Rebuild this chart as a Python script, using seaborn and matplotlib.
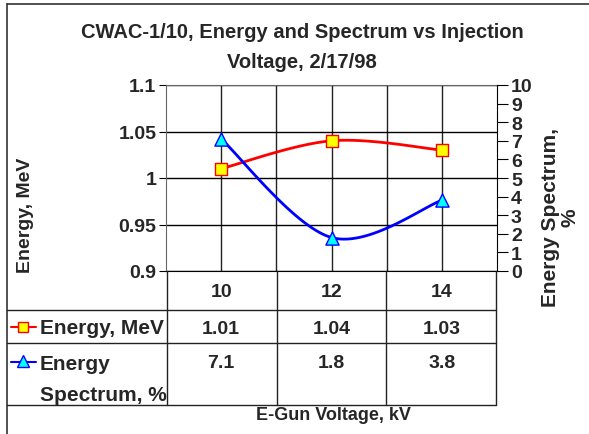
import numpy as np
import pandas as pd
import matplotlib
matplotlib.use("Agg")
import matplotlib.pyplot as plt
import matplotlib.transforms as mtransforms
from matplotlib.lines import Line2D
import seaborn as sns

# Datos
voltages = ["10", "12", "14"]
energy = [1.01, 1.04, 1.03]
spectrum = [7.1, 1.8, 3.8]
energy_ticks = [0.9, 0.95, 1.0, 1.05, 1.1]
energy_tick_labels = ["0.9", "0.95", "1", "1.05", "1.1"]
spectrum_ticks = list(range(0, 11))

sns.set_style("white")
plt.rcParams["font.family"] = ["Liberation Sans", "DejaVu Sans"]
plt.rcParams["font.weight"] = "bold"

W, H = 589, 435
fig = plt.figure(figsize=(W / 100, H / 100), dpi=100)


def fx(x):
    return x / W


def fy(y):
    return 1 - y / H


def smooth(xs, ys, n=40):
    # curva suavizada tipo Excel (Bezier / Catmull-Rom)
    p = np.column_stack([xs, ys]).astype(float)
    pts = []
    for i in range(len(p) - 1):
        p0 = p[i - 1] if i > 0 else p[i]
        p3 = p[i + 2] if i + 2 < len(p) else p[i + 1]
        c1 = p[i] + (p[i + 1] - p0) / 6
        c2 = p[i + 1] - (p3 - p[i]) / 6
        t = np.linspace(0, 1, n)[:, None]
        seg = ((1 - t) ** 3) * p[i] + 3 * ((1 - t) ** 2) * t * c1 + 3 * (1 - t) * t ** 2 * c2 + t ** 3 * p[i + 1]
        pts.append(seg if i == 0 else seg[1:])
    pts = np.vstack(pts)
    return pts[:, 0], pts[:, 1]


# marco exterior
fig.add_artist(Line2D([fx(7), fx(7)], [fy(5), 0], color="#333333", lw=1.2))
fig.add_artist(Line2D([fx(7), 1], [fy(5), fy(5)], color="#333333", lw=1.2))

# titulo
fig.text(fx(302), fy(33), "CWAC-1/10, Energy and Spectrum vs Injection",
         ha="center", va="center", fontsize=14.5, fontweight="bold")
fig.text(fx(302), fy(62), "Voltage, 2/17/98",
         ha="center", va="center", fontsize=14.5, fontweight="bold")

ax = fig.add_axes([fx(166), fy(272), (497 - 166) / W, (272 - 86) / H])
pos = np.arange(len(voltages))

df = pd.DataFrame({"pos": pos, "energy": energy, "spectrum": spectrum})

ex, ey = smooth(pos, energy)
sns.lineplot(x=ex, y=ey, ax=ax, color="#ff0000", lw=2, sort=False, zorder=3)
sns.scatterplot(data=df, x="pos", y="energy", ax=ax, marker="s", s=70,
                color="#ffff00", edgecolor="#ff0000", linewidth=1, zorder=4)

ax.set_xlim(-0.5, len(voltages) - 0.5)
ax.set_ylim(0.9, 1.1)
ax.set_yticks(energy_ticks)
ax.set_yticklabels(energy_tick_labels, fontsize=14, fontweight="bold")
ax.set_xticks(pos)
ax.set_xticklabels([])
ax.set_xticks(pos[:-1] + 0.5, minor=True)
ax.tick_params(axis="y", direction="out", length=5, color="black", pad=2)
ax.tick_params(axis="x", which="major", direction="out", length=4, color="black")
ax.tick_params(axis="x", which="minor", length=0)
ax.grid(True, axis="y", color="black", lw=1)
ax.grid(True, axis="x", which="both", color="#222222", lw=1)
ax.set_xlabel("")
ax.set_ylabel("")
for s in ["top", "left"]:
    ax.spines[s].set_color("#666666")
ax.spines["bottom"].set_color("black")
ax.spines["right"].set_visible(False)

ax2 = ax.twinx()
sx, sy = smooth(pos, spectrum)
sns.lineplot(x=sx, y=sy, ax=ax2, color="#0000ff", lw=2, sort=False, zorder=3)
sns.scatterplot(data=df, x="pos", y="spectrum", ax=ax2, marker="^", s=90,
                color="#00ffff", edgecolor="#0000ff", linewidth=1, zorder=4)
ax2.set_ylim(0, 10)
ax2.set_yticks(spectrum_ticks)
ax2.set_yticklabels([str(t) for t in spectrum_ticks], fontsize=14, fontweight="bold")
ax2.tick_params(axis="y", direction="out", length=8, color="black", pad=2)
ax2.set_ylabel("")
for s in ["top", "left", "bottom"]:
    ax2.spines[s].set_visible(False)
ax2.spines["right"].set_color("black")

# etiquetas de ejes
fig.text(fx(25), fy(215), "Energy, MeV", rotation=90, ha="center", va="center",
         fontsize=14, fontweight="bold")
fig.text(fx(560), fy(218), "Energy Spectrum,\n%", rotation=90, ha="center", va="center",
         fontsize=15, fontweight="bold", linespacing=1.0, multialignment="center")

# tabla de datos
rows = [272, 310.7, 344.3, 405.7]
cols = [166.7, 277, 386, 496]
for y in rows[1:]:
    fig.add_artist(Line2D([fx(7), fx(496)], [fy(y), fy(y)], color="#222222", lw=1))
for x in cols:
    fig.add_artist(Line2D([fx(x), fx(x)], [fy(272), fy(405.7)], color="#222222", lw=1))

tr = mtransforms.blended_transform_factory(ax.transData, fig.transFigure)
for i, v in enumerate(voltages):
    ax.text(pos[i], fy(293), v, transform=tr, ha="center", va="center",
            fontsize=14, fontweight="bold")
    ax.text(pos[i], fy(329), f"{energy[i]:.2f}", transform=tr, ha="center", va="center",
            fontsize=14, fontweight="bold")
    ax.text(pos[i], fy(364), f"{spectrum[i]:.1f}", transform=tr, ha="center", va="center",
            fontsize=14, fontweight="bold")

fig.add_artist(Line2D([fx(11), fx(36)], [fy(328), fy(328)], color="#ff0000", lw=1.5))
fig.add_artist(Line2D([fx(23)], [fy(328)], marker="s", markersize=7,
                      markerfacecolor="#ffff00", markeredgecolor="#ff0000", lw=0))
fig.text(fx(40), fy(329), "Energy, MeV", ha="left", va="center", fontsize=15, fontweight="bold")
fig.add_artist(Line2D([fx(11), fx(36)], [fy(363), fy(363)], color="#0000ff", lw=1.5))
fig.add_artist(Line2D([fx(23)], [fy(362)], marker="^", markersize=8,
                      markerfacecolor="#00ffff", markeredgecolor="#0000ff", lw=0))
fig.text(fx(40), fy(365), "Energy", ha="left", va="center", fontsize=15, fontweight="bold")
fig.text(fx(40), fy(396), "Spectrum, %", ha="left", va="center", fontsize=15, fontweight="bold")

fig.text(fx(333), fy(416), "E-Gun Voltage, kV", ha="center", va="center",
         fontsize=13, fontweight="bold")

fig.savefig("out.png", dpi=100)
